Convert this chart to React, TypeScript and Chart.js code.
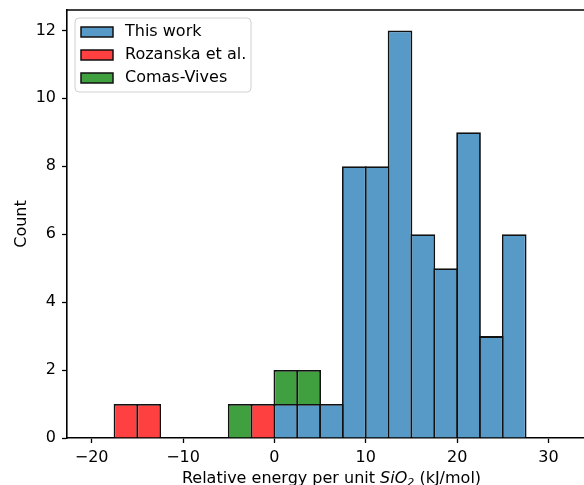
import { useEffect, useRef } from "react";
import { Chart, registerables } from "chart.js";

Chart.register(...registerables);

// Histogram bins (kJ/mol), 2.5 wide, left edges
const binWidth = 2.5;
const binLefts = [-17.5, -15, -12.5, -10, -7.5, -5, -2.5, 0, 2.5, 5, 7.5, 10, 12.5, 15, 17.5, 20, 22.5, 25];

// Counts per bin for each source (stacked in this order, bottom to top)
const thisWork = [0, 0, 0, 0, 0, 0, 0, 1, 1, 1, 8, 8, 12, 6, 5, 9, 3, 6];
const rozanska = [1, 1, 0, 0, 0, 0, 1, 0, 0, 0, 0, 0, 0, 0, 0, 0, 0, 0];
const comasVives = [0, 0, 0, 0, 0, 1, 0, 1, 1, 0, 0, 0, 0, 0, 0, 0, 0, 0];

const seriesNames = ["This work", "Rozanska et al.", "Comas-Vives"];
const seriesCounts = [thisWork, rozanska, comasVives];
const seriesColors = ["rgb(87,153,199)", "rgb(255,64,64)", "rgb(64,160,64)"];

const xTicks = [-20, -10, 0, 10, 20, 30];
const yTicks = [0, 2, 4, 6, 8, 10, 12];

const FONT = "'DejaVu Sans', sans-serif";
const FONT_SIZE = 16;
const EDGE = 1.8;

const fmt = (v: number) => (v < 0 ? "\u2212" + Math.abs(v) : String(v));

const framePlugin = {
  id: "frameAndLegend",
  afterDraw(chart: any) {
    const { ctx, chartArea } = chart;
    const { left, right, top, bottom } = chartArea;
    ctx.save();

    // top spine
    ctx.strokeStyle = "#000";
    ctx.lineWidth = 1.5;
    ctx.beginPath();
    ctx.moveTo(left - 0.75, top);
    ctx.lineTo(right, top);
    ctx.stroke();

    // legend box
    const lx = left + 8;
    const ly = top + 8;
    const lw = 176;
    const lh = 74;
    const r = 4;
    ctx.beginPath();
    ctx.moveTo(lx + r, ly);
    ctx.lineTo(lx + lw - r, ly);
    ctx.arcTo(lx + lw, ly, lx + lw, ly + r, r);
    ctx.lineTo(lx + lw, ly + lh - r);
    ctx.arcTo(lx + lw, ly + lh, lx + lw - r, ly + lh, r);
    ctx.lineTo(lx + r, ly + lh);
    ctx.arcTo(lx, ly + lh, lx, ly + lh - r, r);
    ctx.lineTo(lx, ly + r);
    ctx.arcTo(lx, ly, lx + r, ly, r);
    ctx.closePath();
    ctx.fillStyle = "rgba(255,255,255,0.8)";
    ctx.fill();
    ctx.strokeStyle = "#d0d0d0";
    ctx.lineWidth = 1;
    ctx.stroke();

    ctx.font = `${FONT_SIZE}px ${FONT}`;
    ctx.textBaseline = "middle";
    ctx.textAlign = "left";
    seriesNames.forEach((name, i) => {
      const cy = ly + 14 + i * 23;
      ctx.fillStyle = seriesColors[i];
      ctx.fillRect(lx + 6, cy - 5, 32, 10);
      ctx.strokeStyle = "#111";
      ctx.lineWidth = 1.5;
      ctx.strokeRect(lx + 6, cy - 5, 32, 10);
      ctx.fillStyle = "#000";
      ctx.fillText(name, lx + 50, cy);
    });

    // x-axis title with italic SiO and subscript 2
    const parts = [
      { t: "Relative energy per unit ", f: `${FONT_SIZE}px ${FONT}`, dy: 0 },
      { t: "SiO", f: `italic ${FONT_SIZE}px ${FONT}`, dy: 0 },
      { t: "2", f: `italic ${Math.round(FONT_SIZE * 0.7)}px ${FONT}`, dy: 3 },
      { t: " (kJ/mol)", f: `${FONT_SIZE}px ${FONT}`, dy: 0 },
    ];
    let total = 0;
    const widths = parts.map((p) => {
      ctx.font = p.f;
      const w = ctx.measureText(p.t).width;
      total += w;
      return w;
    });
    let x = (left + right) / 2 - total / 2;
    const baseY = bottom + 45;
    ctx.textBaseline = "alphabetic";
    ctx.fillStyle = "#000";
    parts.forEach((p, i) => {
      ctx.font = p.f;
      ctx.fillText(p.t, x, baseY + p.dy);
      x += widths[i];
    });

    ctx.restore();
  },
};

export default function App() {
  const ref = useRef<HTMLCanvasElement | null>(null);

  useEffect(() => {
    if (!ref.current) return;
    const datasets = seriesCounts.map((counts, i) => ({
      label: seriesNames[i],
      data: binLefts
        .map((b, k) => ({ x: b + binWidth / 2, y: counts[k] }))
        .filter((p) => p.y > 0),
      backgroundColor: seriesColors[i],
      borderColor: "#111",
      borderWidth: EDGE,
      borderSkipped: "start" as const,
      inflateAmount: 0,
      // widen each bar by one edge width so neighbouring edges coincide
      barPercentage: (22.8 + EDGE) / 22.8,
      categoryPercentage: 1,
    }));

    const zeroPad = (s: any) => {
      s.paddingTop = 0;
      s.paddingBottom = 0;
      s.paddingLeft = 0;
      s.paddingRight = 0;
    };

    const chart = new Chart(ref.current, {
      type: "bar",
      data: { datasets },
      options: {
        responsive: false,
        animation: false,
        devicePixelRatio: 1,
        layout: { padding: { top: 10, right: 4, left: 0, bottom: 0 } },
        plugins: { legend: { display: false }, tooltip: { enabled: false } },
        scales: {
          x: {
            type: "linear",
            stacked: true,
            offset: false,
            min: -22.7,
            max: 35.2,
            afterBuildTicks: (s: any) => {
              s.ticks = xTicks.map((v) => ({ value: v }));
            },
            afterFit: (s: any) => {
              s.height = 47;
              zeroPad(s);
            },
            ticks: {
              color: "#000",
              font: { family: FONT, size: FONT_SIZE },
              padding: 5,
              maxRotation: 0,
              callback: (v: any) => fmt(Number(v)),
            },
            grid: {
              display: true,
              offset: false,
              drawOnChartArea: false,
              drawTicks: true,
              tickLength: 5,
              tickColor: "#000",
              tickWidth: 1.3,
            },
            border: { display: true, color: "#000", width: 1.6 },
          },
          y: {
            type: "linear",
            stacked: true,
            min: 0,
            max: 12.6,
            afterBuildTicks: (s: any) => {
              s.ticks = yTicks.map((v) => ({ value: v }));
            },
            afterFit: (s: any) => {
              s.width = 67;
              zeroPad(s);
            },
            ticks: {
              color: "#000",
              font: { family: FONT, size: FONT_SIZE },
              padding: 6,
              callback: (v: any) => fmt(Number(v)),
            },
            grid: {
              display: true,
              drawOnChartArea: false,
              drawTicks: true,
              tickLength: 5,
              tickColor: "#000",
              tickWidth: 1.3,
            },
            border: { display: true, color: "#000", width: 1.6 },
            title: {
              display: true,
              text: "Count",
              color: "#000",
              font: { family: FONT, size: FONT_SIZE, lineHeight: 1 },
              padding: { top: 14, bottom: 0 },
            },
          },
        },
      },
      plugins: [framePlugin],
    });
    return () => chart.destroy();
  }, []);

  return (
    <div
      style={{
        position: "fixed",
        left: 0,
        top: 0,
        width: 584,
        height: 485,
        overflow: "hidden",
        background: "#fff",
      }}
    >
      <canvas ref={ref} width={600} height={485} style={{ display: "block", width: 600, height: 485 }} />
    </div>
  );
}
